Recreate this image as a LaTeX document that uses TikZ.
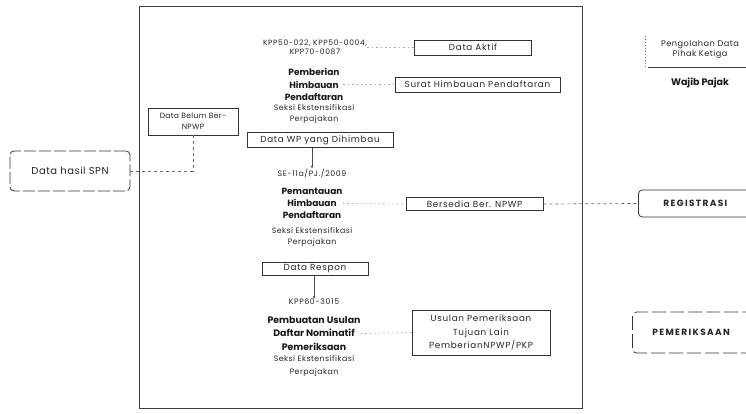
\documentclass[tikz,border=0pt]{standalone}
\usepackage{fontspec}
\setmainfont{Poppins}
\usetikzlibrary{positioning,calc,arrows.meta}
\newcommand{\boxfont}{\fontsize{8.8}{10}\selectfont\addfontfeature{LetterSpace=8}}
\newcommand{\smallfont}{\fontsize{7.8}{11}\selectfont\addfontfeature{LetterSpace=6}}
\tikzset{
  boxed/.style={draw=black!80, line width=0.8pt, inner sep=0pt, text=black!85, font=\boxfont},
  small/.style={text=black!85, inner sep=0pt, align=center, font=\smallfont},
  heading/.style={text=black!90, inner sep=0pt, align=center, font=\bfseries\fontsize{9}{12.7}\selectfont},
  faint/.style={draw=black!35, dash pattern=on 1.5pt off 3pt, line width=0.7pt},
  dashline/.style={draw=black!60, dash pattern=on 3pt off 3pt, line width=0.7pt},
  arr/.style={draw=black!70, line width=0.6pt, -{Stealth[length=3pt,width=2.5pt]}}
}
\begin{document}
\begin{tikzpicture}[x=1pt,y=-1pt]
\useasboundingbox (0,0) rectangle (746,414);
\clip (0,0) rectangle (746,414);

% main frame
\draw[black!75, line width=1pt] (139,7) rectangle (582,408);

% left side
\node[boxed, rounded corners=4pt, dash pattern=on 12pt off 3pt, minimum width=120pt, minimum height=40pt, font=\fontsize{10}{11}\selectfont\addfontfeature{LetterSpace=5}] (spn) at (70,171) {Data hasil SPN};
\node[boxed, minimum width=90pt, minimum height=27pt, align=center, font=\fontsize{7.6}{11}\selectfont\addfontfeature{LetterSpace=4}] (belum) at (193,121.5) {Data Belum Ber-\\NPWP};

% centre column
\node[small, font=\fontsize{7.6}{9}\selectfont\addfontfeature{LetterSpace=8}] (kpp1) at (315,47.5) {KPP50-022, KPP50-0004,\\KPP70-0087};
\node[heading] (pemberian) at (314,84.5) {Pemberian\\Himbauan\\Pendaftaran};
\node[small] (seksi1) at (314,114) {Seksi Ekstensifikasi\\Perpajakan};
\node[boxed, minimum width=146pt, minimum height=15pt] (datawp) at (320,140) {Data WP yang Dihimbau};
\node[small, font=\fontsize{7.8}{9}\selectfont\addfontfeature{LetterSpace=8}] (se) at (312,173) {SE-11a/PJ./2009};
\node[heading, font=\bfseries\fontsize{9}{12}\selectfont] (pemantauan) at (312,203.5) {Pemantauan\\Himbauan\\Pendaftaran};
\node[small] (seksi2) at (312,237.5) {Seksi Ekstensifikasi\\Perpajakan};
\node[boxed, minimum width=106pt, minimum height=13pt] (respon) at (315,268.5) {Data Respon};
\node[small, font=\fontsize{7.8}{9}\selectfont\addfontfeature{LetterSpace=8}] (kpp3) at (314,302) {KPP60-3015};
\node[heading, font=\bfseries\fontsize{9.4}{13.5}\selectfont] (pembuatan) at (314,333.5) {Pembuatan Usulan\\Daftar Nominatif\\Pemeriksaan};
\node[small, font=\smallfont\fontsize{7.8}{13}\selectfont] (seksi3) at (314,366.5) {Seksi Ekstensifikasi\\Perpajakan};

% right column inside frame
\node[boxed, minimum width=117pt, minimum height=15pt] (aktif) at (473,47.5) {Data Aktif};
\node[boxed, minimum width=165pt, minimum height=15pt] (surat) at (477.5,84.5) {Surat Himbauan Pendaftaran};
\node[boxed, minimum width=137pt, minimum height=13pt] (bersedia) at (474.5,204) {Bersedia Ber. NPWP};
\node[boxed, minimum width=138pt, minimum height=45pt, align=center, font=\boxfont\fontsize{8.8}{13.5}\selectfont] (usulan) at (481,332.5) {Usulan Pemeriksaan\\Tujuan Lain\\PemberianNPWP/PKP};

% far right
\draw[black!55, dash pattern=on 1pt off 2pt, line width=0.7pt] (645,36) -- (645,67);
\draw[black!75, line width=0.8pt] (648,67) -- (760,67);
\node[small, font=\fontsize{8.2}{10}\selectfont\addfontfeature{LetterSpace=6}] (pengolahan) at (700,50) {Pengolahan Data\\Pihak Ketiga};
\node[heading, font=\bfseries\fontsize{9.5}{10}\selectfont] (wp) at (700,83) {Wajib Pajak};
\node[boxed, rounded corners=4pt, minimum width=122pt, minimum height=27pt, anchor=west, text width=110pt, align=left, font=\bfseries\fontsize{9}{10}\selectfont\addfontfeature{LetterSpace=15}] (regis) at (638,203.5) {\hspace*{19pt}REGISTRASI};
\node[boxed, rounded corners=4pt, dash pattern=on 14pt off 4pt, minimum width=128pt, minimum height=41pt, anchor=west, text width=116pt, align=left, font=\bfseries\fontsize{9}{10}\selectfont\addfontfeature{LetterSpace=15}] (periksa) at (632,332.5) {\hspace*{14pt}PEMERIKSAAN};

% connectors
\draw[dashline] (spn.east) -| (belum.south);
\draw[arr] (datawp.south -| se.north) -- (se.north);
\draw[arr] (respon.south -| kpp3.north) -- (kpp3.north);
\draw[dashline] (bersedia.east) -- (regis.west);
\draw[faint] (pembuatan.east) -- (usulan.west);
\draw[faint] (pemantauan.east) -- (bersedia.west);
\draw[faint] (pemberian.east |- surat.west) -- (surat.west);
\draw[faint] (kpp1.east) -- (aktif.west);
\end{tikzpicture}
\end{document}
